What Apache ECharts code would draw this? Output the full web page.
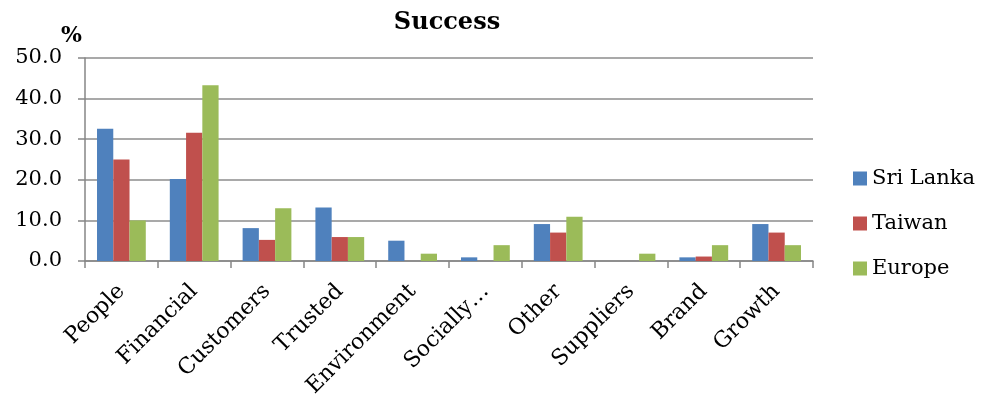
<!DOCTYPE html>
<html>
<head>
<meta charset="utf-8">
<script src="https://cdn.jsdelivr.net/npm/echarts@6/dist/echarts.min.js"></script>
<style>
  html, body { margin: 0; padding: 0; background: #fff; }
  #chart { width: 987px; height: 397px; }
</style>
</head>
<body>
<div id="chart"></div>
<script>
// Share of respondents (%) naming each factor of success
const categories = ['People', 'Financial', 'Customers', 'Trusted', 'Environment',
  'Socially…', 'Other', 'Suppliers', 'Brand', 'Growth'];
const sriLanka = [32.6, 20.2, 8.1, 13.2, 5.0, 0.9, 9.1, 0, 0.9, 9.1];
const taiwan   = [25.0, 31.6, 5.2, 5.9, 0, 0, 7.0, 0, 1.1, 7.0];
const europe   = [10.0, 43.3, 13.0, 5.9, 1.8, 3.9, 10.9, 1.8, 3.9, 3.9];
const seriesNames = ['Sri Lanka', 'Taiwan', 'Europe'];
const seriesColors = ['#4F81BD', '#C0504D', '#9BBB59'];
const yTicks = { min: 0, max: 50, interval: 10 };

const FONT = 'DejaVu Serif';
const chart = echarts.init(document.getElementById('chart'));

const seriesData = [sriLanka, taiwan, europe];
chart.setOption({
  animation: false,
  title: {
    text: 'Success',
    left: 442, top: 6, textAlign: 'center',
    textStyle: { fontFamily: FONT, fontWeight: 'bold', fontSize: 24, color: '#000' }
  },
  legend: {
    orient: 'vertical',
    left: 853, top: 168, padding: 0,
    itemWidth: 14, itemHeight: 14, itemGap: 24,
    icon: 'rect',
    textStyle: { fontFamily: FONT, fontSize: 21, color: '#000' },
    data: seriesNames
  },
  grid: {
    left: 85, right: 174, top: 58, bottom: 136,
    containLabel: false, outerBoundsMode: 'none'
  },
  xAxis: {
    type: 'category',
    data: categories,
    axisLine: { lineStyle: { color: '#868686', width: 1.5 } },
    axisTick: { show: true, length: 7, lineStyle: { color: '#868686', width: 1.5 } },
    axisLabel: {
      rotate: 45, margin: 27, interval: 0,
      fontFamily: FONT, fontSize: 22, color: '#000'
    }
  },
  yAxis: {
    type: 'value',
    min: yTicks.min, max: yTicks.max, interval: yTicks.interval,
    name: '%',
    nameLocation: 'end',
    nameGap: 9,
    nameTextStyle: { fontFamily: FONT, fontWeight: 'bold', fontSize: 22, color: '#000', align: 'right', padding: [0, 3, 0, 0] },
    axisLine: { show: true, lineStyle: { color: '#868686', width: 1.5 } },
    axisTick: { show: true, length: 7, lineStyle: { color: '#868686', width: 1.5 } },
    axisLabel: {
      margin: 23, fontFamily: FONT, fontSize: 21, color: '#000',
      formatter: v => v.toFixed(1)
    },
    splitLine: { lineStyle: { color: '#8c8c8c', width: 1.5 } }
  },
  series: seriesNames.map((name, i) => ({
    name,
    type: 'bar',
    data: seriesData[i],
    barGap: '0%',
    barCategoryGap: '33%',
    itemStyle: { color: seriesColors[i] }
  }))
});
</script>
</body>
</html>
